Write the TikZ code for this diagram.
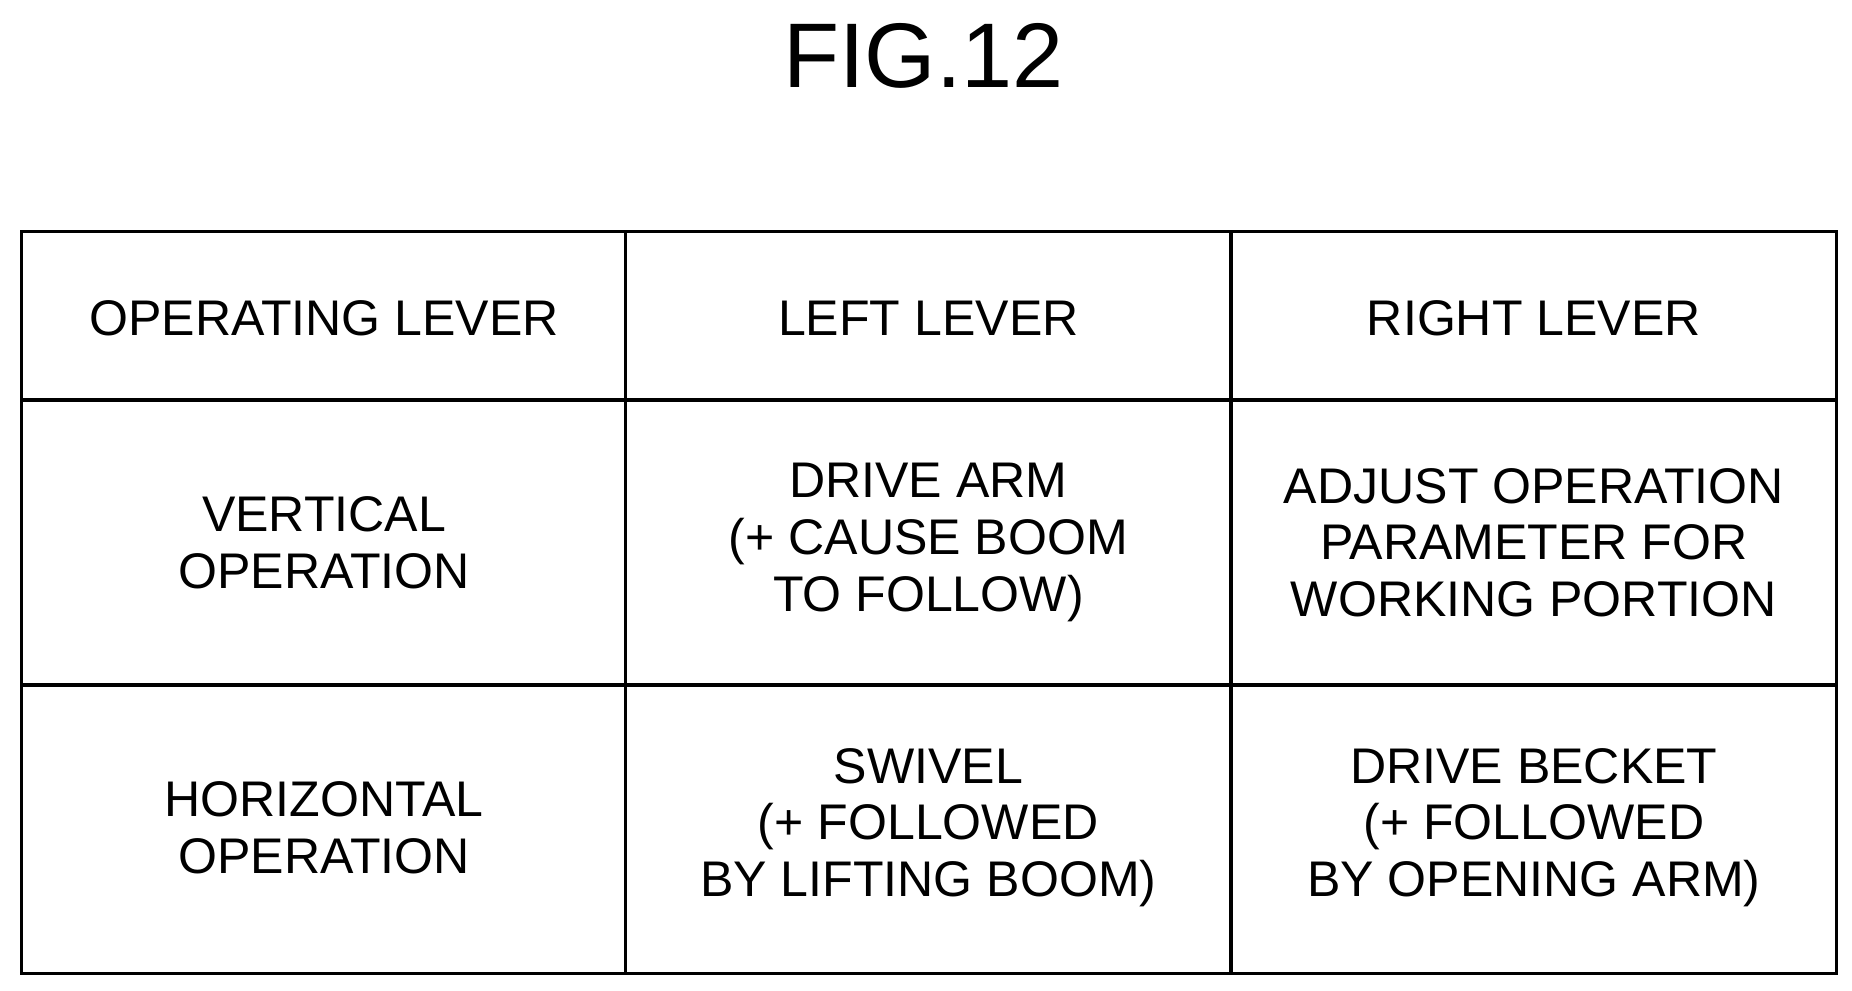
\documentclass[tikz,border=0pt]{standalone}
\usepackage{fontspec}
\setmainfont{Liberation Sans}
\begin{document}
\begin{tikzpicture}[x=1cm,y=-1cm,
  cell/.style={align=center,font=\fontsize{12}{13.6}\selectfont}]
\useasboundingbox (0,0) rectangle (15.6,8.34);
\node (title) at (7.78,0.47) {\fontsize{22}{24}\selectfont FIG.12};

\draw[line width=0.8pt] (0.18,1.95) rectangle (15.47,8.2);
\draw[line width=0.8pt] (0.18,3.37) -- (15.47,3.37);
\draw[line width=0.8pt] (0.18,5.77) -- (15.47,5.77);
\draw[line width=0.8pt] (5.27,1.95) -- (5.27,8.2);
\draw[line width=0.8pt] (10.37,1.95) -- (10.37,8.2);

\node[cell] (lever) at (2.73,2.68) {OPERATING LEVER};
\node[cell] (left) at (7.82,2.68) {LEFT LEVER};
\node[cell] (right) at (12.92,2.68) {RIGHT LEVER};

\node[cell] (vert) at (2.73,4.57) {VERTICAL\\OPERATION};
\node[cell] (arm) at (7.82,4.57) {DRIVE ARM\\(+ CAUSE BOOM\\TO FOLLOW)};
\node[cell] (adjust) at (12.92,4.57) {ADJUST OPERATION\\PARAMETER FOR\\WORKING PORTION};

\node[cell] (horiz) at (2.73,6.97) {HORIZONTAL\\OPERATION};
\node[cell] (swivel) at (7.82,6.97) {SWIVEL\\(+ FOLLOWED\\BY LIFTING BOOM)};
\node[cell] (becket) at (12.92,6.97) {DRIVE BECKET\\(+ FOLLOWED\\BY OPENING ARM)};
\end{tikzpicture}
\end{document}
